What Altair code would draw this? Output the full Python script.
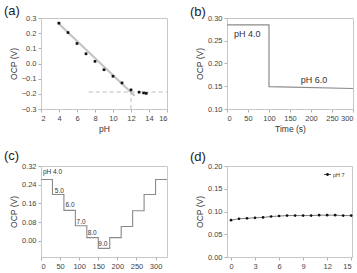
import altair as alt
import pandas as pd

FONT = "Liberation Sans"

# (a) OCP against pH, with the linear fit and the saturation guide lines
ph_vals = [4, 5, 6, 7, 8, 9, 10, 11, 12, 12.9, 13.4, 13.7]
ph_ocp = [0.266, 0.204, 0.132, 0.064, 0.014, -0.041, -0.084, -0.128, -0.174, -0.189, -0.194, -0.197]
fit_ph = [3.8, 12.4]
fit_ocp = [0.272, -0.213]
guide_ocp = -0.188
guide_ph_start = 7.3
guide_ph_break = 12.0

# (b) OCP step when the buffer changes from pH 4 to pH 6
b_time = [0, 100, 100, 300]
b_ocp = [0.285, 0.285, 0.149, 0.145]
b_labels = ["pH 4.0", "pH 6.0"]
b_label_time = [48, 207]
b_label_ocp = [0.265, 0.164]

# (c) stepwise pH cycle 4 -> 9 -> 4
c_edges = [0, 30, 60, 90, 120, 150, 180, 210, 240, 270, 300, 330]
c_ocp = [0.262, 0.198, 0.130, 0.064, 0.013, -0.033, 0.013, 0.061, 0.128, 0.198, 0.262]
c_labels = ["pH 4.0", "5.0", "6.0", "7.0", "8.0", "9.0"]
c_label_time = [30, 48, 76, 105, 134, 162]
c_label_ocp = [0.294, 0.215, 0.151, 0.082, 0.035, -0.013]

# (d) long-term stability at pH 7
d_time = list(range(16))
d_ocp = [0.081, 0.084, 0.085, 0.086, 0.087, 0.089, 0.090, 0.091, 0.091,
         0.091, 0.091, 0.092, 0.092, 0.092, 0.091, 0.091]

PW, PH = 126, 91


def panel_tag(tag, dy):
    return alt.Chart(pd.DataFrame({"tag": [tag]})).mark_text(
        align="left", baseline="middle", fontSize=13, font=FONT,
        color="#222", x=-37, y=dy
    ).encode(text="tag:N")


# ---------- (a) ----------
xa = alt.X("ph:Q", title="pH",
           scale=alt.Scale(domain=[2, 16], nice=False),
           axis=alt.Axis(values=list(range(2, 17, 2))))
ya = alt.Y("ocp:Q", title="OCP (V)",
           scale=alt.Scale(domain=[-0.3, 0.3], nice=False),
           axis=alt.Axis(values=[-0.3, -0.2, -0.1, 0.0, 0.1, 0.2, 0.3], format=".1f"))

df_a = pd.DataFrame({"ph": ph_vals, "ocp": ph_ocp})
df_fit = pd.DataFrame({"ph": fit_ph, "ocp": fit_ocp})
df_h = pd.DataFrame({"ph": [guide_ph_start], "ph2": [16], "ocp": [guide_ocp]})
df_v = pd.DataFrame({"ph": [guide_ph_break], "ocp": [-0.3], "ocp2": [guide_ocp]})

fit_line = alt.Chart(df_fit).mark_line(color="#c4c4c4", strokeWidth=2.2).encode(x=xa, y=ya)
h_guide = alt.Chart(df_h).mark_rule(color="#bdbdbd", strokeDash=[4, 3], strokeWidth=1).encode(
    x=xa, x2="ph2:Q", y=ya)
v_guide = alt.Chart(df_v).mark_rule(color="#bdbdbd", strokeDash=[4, 3], strokeWidth=1).encode(
    x=xa, y=ya, y2="ocp2:Q")
pts_a = alt.Chart(df_a).mark_point(shape="square", filled=True, size=7, color="#111", opacity=1).encode(
    x=xa, y=ya)
panel_a = alt.layer(fit_line, h_guide, v_guide, pts_a, panel_tag("(a)", -7)).properties(
    width=PW, height=PH)

# ---------- (b) ----------
xb = alt.X("t:Q", title="Time (s)",
           scale=alt.Scale(domain=[0, 300], nice=False),
           axis=alt.Axis(values=list(range(0, 301, 50))))
yb = alt.Y("ocp:Q", title="OCP (V)",
           scale=alt.Scale(domain=[0.10, 0.30], nice=False),
           axis=alt.Axis(values=[0.10, 0.15, 0.20, 0.25, 0.30], format=".2f"))

df_b = pd.DataFrame({"t": b_time, "ocp": b_ocp, "k": list(range(len(b_time)))})
df_bl = pd.DataFrame({"t": b_label_time, "ocp": b_label_ocp, "txt": b_labels})
line_b = alt.Chart(df_b).mark_line(color="#8a8a8a", strokeWidth=1.2).encode(
    x=xb, y=yb, order="k:Q")
text_b = alt.Chart(df_bl).mark_text(align="center", baseline="middle", fontSize=9,
                                    font=FONT, color="#333").encode(x=xb, y=yb, text="txt:N")
panel_b = alt.layer(line_b, text_b, panel_tag("(b)", -6)).properties(width=PW, height=PH)

# ---------- (c) ----------
xc = alt.X("t:Q", title="Time (s)",
           scale=alt.Scale(domain=[0, 330], nice=False),
           axis=alt.Axis(values=list(range(0, 301, 50))))
yc = alt.Y("ocp:Q", title="OCP (V)",
           scale=alt.Scale(domain=[-0.07, 0.32], nice=False),
           axis=alt.Axis(values=[0.0, 0.08, 0.16, 0.24, 0.32], format=".2f"))

df_c = pd.DataFrame({"t": c_edges, "ocp": c_ocp + [c_ocp[-1]]})
df_cl = pd.DataFrame({"t": c_label_time, "ocp": c_label_ocp, "txt": c_labels})
line_c = alt.Chart(df_c).mark_line(color="#8a8a8a", strokeWidth=1.1,
                                   interpolate="step-after").encode(x=xc, y=yc)
text_c = alt.Chart(df_cl).mark_text(align="center", baseline="middle", fontSize=6.5,
                                    font=FONT, color="#333").encode(x=xc, y=yc, text="txt:N")
panel_c = alt.layer(line_c, text_c, panel_tag("(c)", -10)).properties(width=PW, height=PH)

# ---------- (d) ----------
xd = alt.X("t:Q", title="Time (h)",
           scale=alt.Scale(domain=[-0.5, 15.1], nice=False),
           axis=alt.Axis(values=[0, 3, 6, 9, 12, 15]))
yd = alt.Y("ocp:Q", title="OCP (V)",
           scale=alt.Scale(domain=[0.0, 0.20], nice=False),
           axis=alt.Axis(values=[0.0, 0.05, 0.10, 0.15, 0.20], format=".2f"))

df_d = pd.DataFrame({"t": d_time, "ocp": d_ocp})
line_d = alt.Chart(df_d).mark_line(color="#444", strokeWidth=0.7).encode(x=xd, y=yd)
pts_d = alt.Chart(df_d).mark_point(shape="circle", filled=True, size=7, color="#111", opacity=1).encode(
    x=xd, y=yd)

# small legend in the upper right corner
leg = pd.DataFrame({"name": ["pH 7"]})
leg_line = alt.Chart(leg).mark_rule(color="#222", strokeWidth=0.8).encode(
    x=alt.value(97), x2=alt.value(104), y=alt.value(8.5))
leg_pt = alt.Chart(leg).mark_point(shape="circle", filled=True, size=8, color="#111", opacity=1).encode(
    x=alt.value(100.5), y=alt.value(8.5))
leg_txt = alt.Chart(leg).mark_text(align="left", baseline="middle", fontSize=5.5, font=FONT,
                                   color="#333").encode(x=alt.value(106), y=alt.value(8.5), text="name:N")
panel_d = alt.layer(line_d, pts_d, leg_line, leg_pt, leg_txt, panel_tag("(d)", -9.5)).properties(
    width=125, height=PH)

chart = alt.concat(
    panel_a, panel_b, panel_c, panel_d,
    columns=2,
    spacing={"row": 57, "column": 60},
    bounds="flush",
).properties(
    padding={"left": 3, "top": 4, "right": 0, "bottom": 0},
    background="white",
).configure_view(
    stroke="#c8c8c8", strokeWidth=1
).configure_axis(
    grid=False,
    labelFont=FONT, labelFontSize=7.5, labelColor="#444", labelPadding=2,
    titleFont=FONT, titleFontSize=8.5, titleColor="#333", titleFontWeight="normal",
    titlePadding=3,
    domainColor="#c8c8c8", tickColor="#b0b0b0", tickSize=3,
)

chart.save("out.html", embed_options={"renderer": "svg", "actions": False})
